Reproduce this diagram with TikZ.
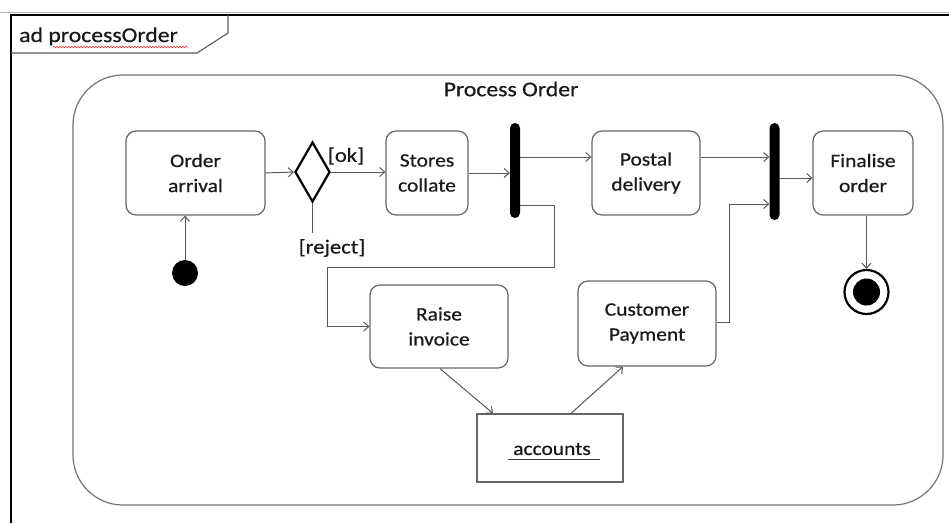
\documentclass[tikz,border=0pt]{standalone}
\usepackage{fontspec}
\setmainfont{Carlito}[FakeStretch=1.13,FakeBold=0.6]
\usetikzlibrary{arrows.meta,shapes.geometric,decorations.pathmorphing}
\begin{document}
\begin{tikzpicture}[x=1pt,y=-1pt,
  act/.style={draw=black!60, line width=1.2pt, rounded corners=10pt, align=center,
    font=\fontsize{19}{25}\selectfont, text=black!90, inner sep=0},
  flow/.style={draw=black!65, line width=1pt, -{Straight Barb[length=5pt,width=9pt]}},
  plain/.style={draw=black!65, line width=1pt},
  bar/.style={fill=black, rounded corners=5pt, minimum width=10pt, inner sep=0},
  lbl/.style={font=\fontsize{20}{24}\selectfont, text=black!90, inner sep=0}
]
\useasboundingbox (0,0) rectangle (949,523);
% frame
\draw[black!30, line width=0.8pt] (0,12.5) -- (949,12.5);
\draw[black, line width=1.6pt] (11,523) -- (11,15) -- (949,15);
\draw[black!65, line width=1.1pt] (11,53) -- (197,53) -- (228,33) -- (228,15);
\node[lbl, font=\fontsize{21}{24}\selectfont, anchor=base west] (title) at (19,42) {ad processOrder};
\draw[red!80, line width=0.6pt, decorate, decoration={snake, amplitude=0.8pt, segment length=3pt}] (53,47) -- (188,47);
% container
\draw[black!55, line width=1.2pt, rounded corners=50pt] (73,75) rectangle (943,505);
\node[lbl, font=\fontsize{21}{24}\selectfont] (proc) at (511,89) {Process Order};
% nodes
\node[act, minimum width=139pt, minimum height=84pt] (order) at (195.5,173) {Order\\arrival};
\node[diamond, draw=black, line width=2.2pt, minimum width=35pt, minimum height=60pt, inner sep=0] (dia) at (312.5,172) {};
\node[act, minimum width=82pt, minimum height=84pt] (stores) at (427,173) {Stores\\collate};
\node[bar, minimum height=95pt] (bar1) at (515,170.5) {};
\node[act, minimum width=108pt, minimum height=84pt] (postal) at (646,173) {Postal\\delivery};
\node[bar, minimum height=97pt] (bar2) at (774.5,171.5) {};
\node[act, minimum width=100pt, minimum height=84pt] (finalise) at (863,173) {Finalise\\order};
\node[act, minimum width=138pt, minimum height=83pt] (raise) at (439,326.5) {Raise\\invoice};
\node[act, minimum width=138pt, minimum height=85pt] (cust) at (647,323.5) {Customer\\Payment};
\node[act, rounded corners=0pt, minimum width=146pt, minimum height=68pt] (acc) at (550,448) {};
\node[font=\fontsize{19}{25}\selectfont, text=black!90, inner sep=0] (acctext) at (552,449) {accounts};
\draw[black!75, line width=1pt] (508,459.5) -- (600,459.5);
\node[circle, fill=black, minimum size=26pt, inner sep=0] (init) at (185,273) {};
\node[circle, draw=black, line width=2.2pt, minimum size=44pt, inner sep=0] (final) at (866.5,292) {};
\node[circle, fill=black, minimum size=27pt, inner sep=0] (finaldot) at (final) {};
\node[lbl] (ok) at (346,156) {[ok]};
\node[lbl] (reject) at (332,248) {[reject]};
% coordinates
\coordinate (p1) at ([yshift=16pt]postal.west);
\coordinate (p2) at ([yshift=16pt]postal.east);
\coordinate (f1) at ([yshift=-5pt]finalise.west);
\coordinate (b1) at ([yshift=-34.5pt]bar1.east);
\coordinate (j2) at ([yshift=-32.5pt]bar2.west);
% connectors
\draw[flow] (init.north) -- (init |- order.south);
\draw[flow] (order.east) -- (dia.west);
\draw[flow] (dia.east) -- (dia.east -| stores.west);
\draw[plain] (dia.south) -- ++(0,30);
\draw[flow] (stores.east) -- (stores.east -| bar1.west);
\draw[flow] (bar1.east |- p1) -- (p1);
\draw[flow] (p2) -- (p2 -| bar2.west);
\draw[flow] (bar2.east |- f1) -- (f1);
\draw[flow] (b1) -| (554,267) -| (327,326.5) -- (raise.west);
\draw[flow] ([yshift=1.5pt]cust.east) -- ++(13,0) |- (j2);
\draw[flow] (final |- finalise.south) -- (final.north);
\draw[flow] ([xshift=1pt]raise.south) -- ([xshift=-57pt]acc.north);
\draw[flow] ([xshift=21pt]acc.north) -- ([xshift=-24pt]cust.south);
\end{tikzpicture}
\end{document}
